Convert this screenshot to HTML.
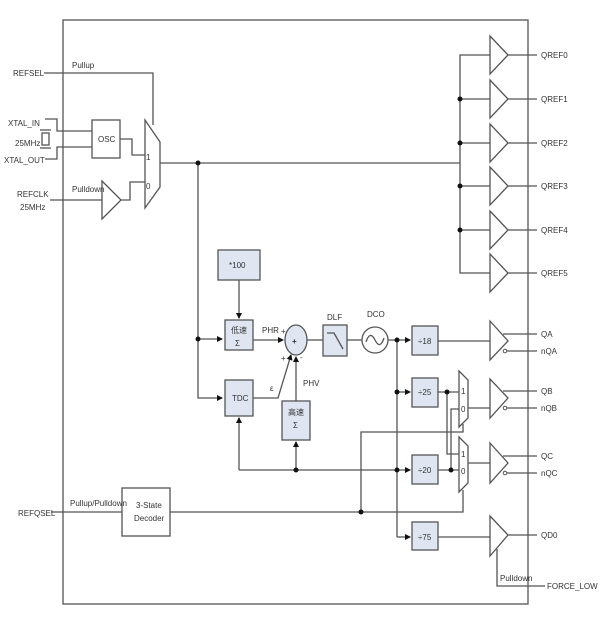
<!DOCTYPE html>
<html><head><meta charset="utf-8"><style>
html,body{margin:0;padding:0;background:#fff;}
svg{display:block;}
text{font-family:"Liberation Sans","Noto Sans CJK SC",sans-serif;font-size:8px;fill:#333;}
</style></head><body>
<svg width="613" height="625" viewBox="0 0 613 625" xmlns="http://www.w3.org/2000/svg">
<defs>
<marker id="a" markerWidth="6" markerHeight="6" refX="5" refY="3" orient="auto" markerUnits="userSpaceOnUse"><path d="M0,0 L6,3 L0,6 z" fill="#111"/></marker>
</defs>
<g stroke="#555" stroke-width="1.3" fill="none">
<rect x="63" y="20" width="465" height="584"/>
<polyline points="44,73 153,73 153,125"/>
<polygon points="145,120 160,142 160,187 145,208" fill="#fff"/>
<polyline points="45,119 57,119 57,131 92,131"/>
<polyline points="45,159 57,159 57,147 92,147"/>
<rect x="42" y="133" width="7" height="12"/>
<line x1="40" y1="130" x2="51" y2="130"/><line x1="40" y1="148" x2="51" y2="148"/>
<rect x="92" y="120" width="28" height="38" fill="#fff"/>
<polyline points="120,139 132,139 132,155 145,155"/>
<line x1="50" y1="200" x2="102" y2="200"/>
<polygon points="102,181 121,200 102,219" fill="#fff"/>
<polyline points="121,200 130,200 130,182 145,182"/>
<line x1="160" y1="163" x2="460" y2="163"/>
<polyline points="198,163 198,398 222,398" marker-end="url(#a)"/>
<line x1="198" y1="339" x2="222" y2="339" marker-end="url(#a)"/>
<polyline points="490,55 460,55 460,273 490,273"/>
<line x1="460" y1="99" x2="490" y2="99"/><line x1="460" y1="143" x2="490" y2="143"/>
<line x1="460" y1="186" x2="490" y2="186"/><line x1="460" y1="230" x2="490" y2="230"/>
<g fill="#fff">
<polygon points="490,36 508,55 490,74"/><polygon points="490,80 508,99 490,118"/>
<polygon points="490,124 508,143 490,162"/><polygon points="490,167 508,186 490,205"/>
<polygon points="490,211 508,230 490,249"/><polygon points="490,254 508,273 490,292"/>
</g>
<line x1="508" y1="55" x2="537" y2="55"/><line x1="508" y1="99" x2="537" y2="99"/>
<line x1="508" y1="143" x2="537" y2="143"/><line x1="508" y1="186" x2="537" y2="186"/>
<line x1="508" y1="230" x2="537" y2="230"/><line x1="508" y1="273" x2="537" y2="273"/>
<line x1="239" y1="280" x2="239" y2="318" marker-end="url(#a)"/>
<line x1="253" y1="340" x2="283" y2="340" marker-end="url(#a)"/>
<polyline points="253,398 278,398 291,355" marker-end="url(#a)"/>
<line x1="296" y1="401" x2="296" y2="357" marker-end="url(#a)"/>
<line x1="307" y1="340" x2="323" y2="340"/>
<line x1="347" y1="340" x2="362" y2="340"/>
<line x1="388" y1="340" x2="410" y2="340" marker-end="url(#a)"/>
<line x1="397" y1="340" x2="397" y2="537"/>
<line x1="397" y1="392" x2="410" y2="392" marker-end="url(#a)"/>
<line x1="397" y1="537" x2="410" y2="537" marker-end="url(#a)"/>
<polyline points="239,470 239,418" marker-end="url(#a)"/>
<line x1="239" y1="470" x2="410" y2="470" marker-end="url(#a)"/>
<line x1="296" y1="470" x2="296" y2="442" marker-end="url(#a)"/>
<g fill="#dfe6f2" stroke="#555">
<rect x="218" y="250" width="42" height="30"/>
<rect x="225" y="320" width="28" height="30"/>
<rect x="225" y="380" width="28" height="36"/>
<rect x="282" y="401" width="28" height="39"/>
<ellipse cx="296" cy="340" rx="11" ry="15"/>
<rect x="323" y="325" width="24" height="31"/>
<rect x="412" y="326" width="26" height="29"/>
<rect x="412" y="378" width="26" height="29"/>
<rect x="412" y="455" width="26" height="29"/>
<rect x="412" y="522" width="26" height="28"/>
</g>
<polyline points="327,333 334,333 343,349"/>
<circle cx="375" cy="340" r="13" fill="#fff"/>
<path d="M366,342 Q370,330 375,340 Q380,350 384,338"/>
<line x1="438" y1="341" x2="490" y2="341"/>
<line x1="438" y1="392" x2="459" y2="392"/>
<polyline points="447,392 447,454 459,454"/>
<line x1="438" y1="470" x2="459" y2="470"/>
<polyline points="451,470 451,409 459,409"/>
<line x1="438" y1="537" x2="490" y2="537"/>
<polygon points="459,371 468,380 468,418 459,427" fill="#fff"/>
<polygon points="459,437 468,446 468,483 459,492" fill="#fff"/>
<line x1="468" y1="408" x2="490" y2="408"/>
<line x1="468" y1="463" x2="490" y2="463"/>
<polyline points="463,424 463,432 361,432 361,512"/>
<polyline points="463,490 463,512 170,512"/>
<line x1="51" y1="512" x2="122" y2="512"/>
<rect x="122" y="488" width="48" height="48" fill="#fff"/>
<g fill="#fff">
<polygon points="490,321 508,341 490,360"/>
<polygon points="490,379 508,398 490,418"/>
<polygon points="490,443 508,463 490,483"/>
<polygon points="490,516 508,535 490,556"/>
</g>
<line x1="503" y1="334" x2="537" y2="334"/><line x1="503" y1="351" x2="537" y2="351"/>
<line x1="503" y1="391" x2="537" y2="391"/><line x1="503" y1="408" x2="537" y2="408"/>
<line x1="503" y1="456" x2="537" y2="456"/><line x1="503" y1="473" x2="537" y2="473"/>
<line x1="508" y1="535" x2="537" y2="535"/>
<polyline points="497,549 497,586 545,586"/>
</g>
<g fill="#111">
<circle cx="198" cy="163" r="2.5"/><circle cx="198" cy="339" r="2.5"/>
<circle cx="460" cy="99" r="2.5"/><circle cx="460" cy="143" r="2.5"/><circle cx="460" cy="186" r="2.5"/><circle cx="460" cy="230" r="2.5"/>
<circle cx="397" cy="340" r="2.5"/><circle cx="397" cy="392" r="2.5"/><circle cx="397" cy="470" r="2.5"/>
<circle cx="296" cy="470" r="2.5"/><circle cx="447" cy="392" r="2.5"/><circle cx="451" cy="470" r="2.5"/>
<circle cx="361" cy="512" r="2.5"/>
</g>
<g fill="#fff" stroke="#555" stroke-width="1">
<circle cx="505" cy="351" r="1.8"/><circle cx="505" cy="408" r="1.8"/><circle cx="505" cy="473" r="1.8"/>
</g>
<text x="13" y="76">REFSEL</text>
<text x="72" y="68">Pullup</text>
<text x="8" y="126">XTAL_IN</text>
<text x="15" y="146">25MHz</text>
<text x="4" y="163">XTAL_OUT</text>
<text x="98" y="142">OSC</text>
<text x="146" y="160">1</text><text x="146" y="189">0</text>
<text x="17" y="197">REFCLK</text>
<text x="20" y="210">25MHz</text>
<text x="72" y="192">Pulldown</text>
<text x="541" y="58">QREF0</text><text x="541" y="102">QREF1</text><text x="541" y="146">QREF2</text>
<text x="541" y="189">QREF3</text><text x="541" y="233">QREF4</text><text x="541" y="276">QREF5</text>
<text x="229" y="268">*100</text>
<text x="231" y="333" font-size="7">低速</text><text x="235" y="346">Σ</text>
<text x="232" y="401">TDC</text>
<text x="288" y="415" font-size="7">高速</text><text x="293" y="428">Σ</text>
<text x="262" y="333">PHR</text>
<text x="281" y="334" font-size="6">+</text>
<text x="281" y="361">+</text>
<text x="300" y="360">-</text>
<text x="292" y="344" font-size="11" font-weight="bold">+</text>
<text x="270" y="391">ε</text>
<text x="303" y="386">PHV</text>
<text x="327" y="320">DLF</text>
<text x="367" y="317">DCO</text>
<text x="418" y="344">÷18</text><text x="418" y="395">÷25</text>
<text x="418" y="473">÷20</text><text x="418" y="540">÷75</text>
<text x="461" y="394" font-size="7">1</text><text x="461" y="412" font-size="7">0</text>
<text x="461" y="457" font-size="7">1</text><text x="461" y="474" font-size="7">0</text>
<text x="541" y="337">QA</text><text x="541" y="354">nQA</text>
<text x="541" y="394">QB</text><text x="541" y="411">nQB</text>
<text x="541" y="459">QC</text><text x="541" y="476">nQC</text>
<text x="541" y="538">QD0</text>
<text x="500" y="581" font-size="7">Pulldown</text>
<text x="547" y="589">FORCE_LOW</text>
<text x="18" y="516">REFQSEL</text>
<text x="70" y="506">Pullup/Pulldown</text>
<text x="136" y="508" font-size="7">3-State</text>
<text x="134" y="521" font-size="7">Decoder</text>
</svg>
</body></html>
